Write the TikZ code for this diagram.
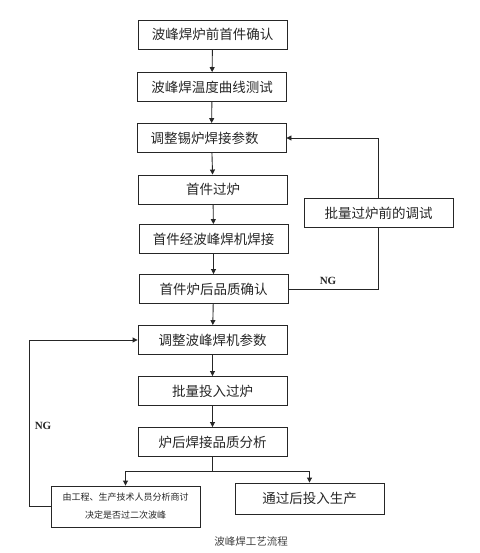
\documentclass[tikz,border=0pt]{standalone}
\usepackage{fontspec}
\newfontfamily\cjk{Noto Sans CJK SC}
\newfontfamily\ngfont{Liberation Serif}
\usetikzlibrary{arrows.meta}
\begin{document}
\begin{tikzpicture}[x=1pt,y=-1pt,
  box/.style={draw=black!85,line width=0.9pt,minimum width=149pt,minimum height=29pt,inner sep=0pt,font=\cjk\fontsize{13.5}{15}\selectfont,text=black!85},
  conn/.style={draw=black!85,line width=0.9pt},
  arr/.style={conn,-{Triangle[length=5pt,width=5pt]}},
  lbl/.style={font=\ngfont\bfseries\fontsize{11}{12}\selectfont,text=black!85}]
\useasboundingbox (0,0) rectangle (479,553);
\node[box] (b1) at (212.5,34.5) {波峰焊炉前首件确认};
\node[box] (b2) at (212,87) {波峰焊温度曲线测试};
\node[box] (b3) at (211.5,138) {调整锡炉焊接参数\hspace*{14pt}};
\node[box] (b4) at (213,189.5) {首件过炉};
\node[box] (b5) at (213.5,239) {首件经波峰焊机焊接};
\node[box] (b6) at (213.5,289) {首件炉后品质确认};
\node[box] (b7) at (212.5,340) {调整波峰焊机参数};
\node[box] (b8) at (212.5,391) {批量投入过炉};
\node[box] (b9) at (212.5,442) {炉后焊接品质分析};
\node[box,minimum height=41pt,align=center,font=\cjk\fontsize{9}{18}\selectfont] (b10) at (125.5,506.5) {由工程、生产技术人员分析商讨\\决定是否过二次波峰};
\node[box,minimum height=31pt] (b11) at (309.5,498.5) {通过后投入生产};
\node[box] (side) at (378.5,213) {批量过炉前的调试};
\node[font=\cjk\fontsize{10.5}{12}\selectfont,text=black!75] (cap) at (251,542) {波峰焊工艺流程};
\draw[arr] (b1) -- (b2);
\draw[arr] (b2) -- (b3);
\draw[arr] (b3) -- (b4);
\draw[arr] (b4) -- (b5);
\draw[arr] (b5) -- (b6);
\draw[arr] (b6) -- (b7);
\draw[arr] (b7) -- (b8);
\draw[arr] (b8) -- (b9);
\draw[conn] (b6.east) -| (side.south);
\draw[arr] (side.north) |- (b3.east);
\node[lbl] (ng1) at (328,281) {NG};
\coordinate (split) at (212.5,471);
\draw[conn] (b9.south) -- (split);
\draw[arr] (split) -| (b10.north);
\draw[arr] (split) -| (b11.north);
\coordinate (lc) at (29,506.5);
\draw[conn] (b10.west) -- (lc);
\draw[arr] (lc) |- (b7.west);
\node[lbl] (ng2) at (43,426) {NG};
\end{tikzpicture}
\end{document}
